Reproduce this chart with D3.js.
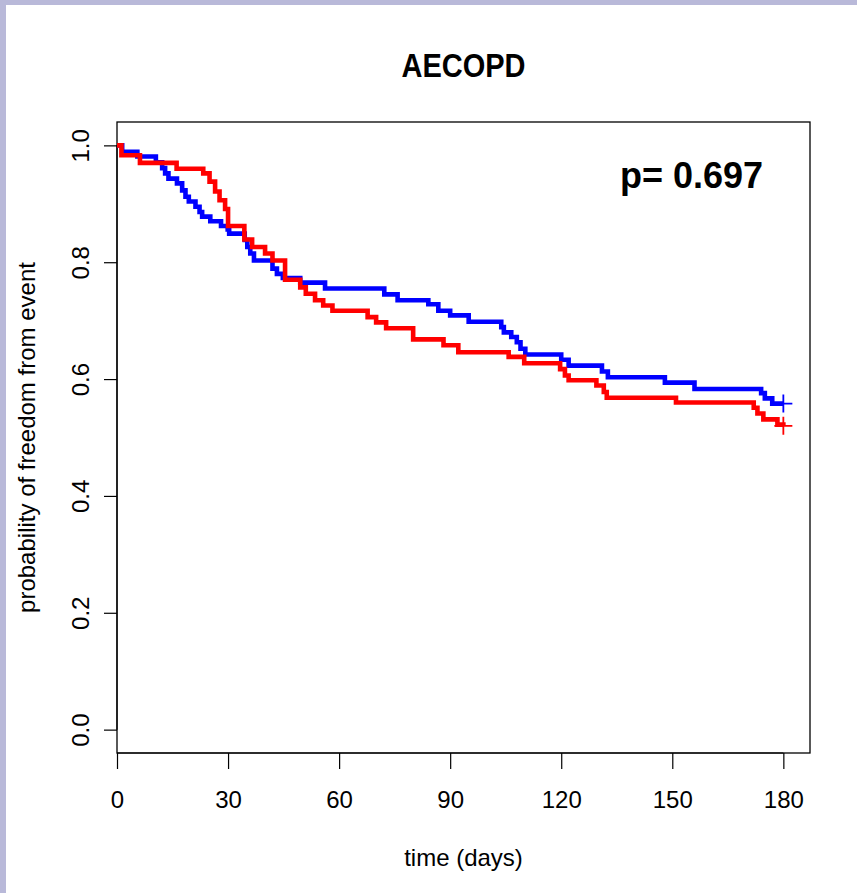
<!DOCTYPE html>
<html>
<head>
<meta charset="utf-8">
<script src="https://cdn.jsdelivr.net/npm/d3@7.9.0/dist/d3.min.js"></script>
<style>
  html, body { margin: 0; padding: 0; background: #fff; }
  svg { display: block; font-family: "Liberation Sans", Arial, sans-serif; }
</style>
</head>
<body>
<svg id="chart" width="857" height="893"></svg>
<script>
// Kaplan-Meier step data (time of step, survival after it)
const blueTimes = [0, 1.4, 5.5, 10.5, 12.2, 13, 13.9, 16.2, 17.6, 18.5, 19.4, 21.2, 22.3, 23, 25.2, 28.1, 29.9, 30.3,
  34.5, 35.2, 36, 37, 42, 43.2, 44.8, 49.5, 56.2, 72.2, 75.8, 84.1, 86.8, 90, 95, 103.8, 104.5, 106.5,
  108, 109, 110.3, 120, 122, 131, 132.6, 148, 156, 174, 175, 177, 180];
const blueSurv = [1.0, 0.989, 0.981, 0.971, 0.961, 0.952, 0.943, 0.935, 0.923, 0.912, 0.904, 0.895, 0.886, 0.878, 0.870, 0.862, 0.856, 0.849,
  0.838, 0.826, 0.815, 0.803, 0.789, 0.780, 0.773, 0.765, 0.755, 0.745, 0.735, 0.728, 0.717, 0.709, 0.698, 0.689, 0.680, 0.672,
  0.663, 0.652, 0.642, 0.633, 0.623, 0.613, 0.603, 0.594, 0.583, 0.576, 0.567, 0.558, 0.558];

const redTimes = [0, 1.2, 6.2, 16.1, 23.3, 25, 26.5, 27.7, 29.2, 30, 34.4, 36.5, 40, 42, 45.4, 49.5, 51, 53.5, 55.7,
  58.2, 67.7, 70, 72.7, 80, 88.2, 92.2, 105.8, 110, 119.7, 121, 122, 129.5, 131.5, 132.3, 151, 172, 173, 174.6, 178.4, 180];
const redSurv = [1.0, 0.983, 0.970, 0.960, 0.952, 0.938, 0.921, 0.906, 0.891, 0.862, 0.839, 0.826, 0.815, 0.803, 0.770, 0.757, 0.746, 0.735, 0.726,
  0.717, 0.706, 0.697, 0.687, 0.668, 0.658, 0.646, 0.638, 0.627, 0.617, 0.606, 0.598, 0.589, 0.578, 0.568, 0.560, 0.551, 0.541, 0.531, 0.522, 0.52];

const xTicks = [0, 30, 60, 90, 120, 150, 180];
const yTicks = [0, 0.2, 0.4, 0.6, 0.8, 1.0];
const title = "AECOPD";
const pText = "p= 0.697";

const svg = d3.select("#chart");

// lavender frame on top and left
svg.append("rect").attr("x", 0).attr("y", 0).attr("width", 857).attr("height", 5).attr("fill", "#b9b9d9");
svg.append("rect").attr("x", 0).attr("y", 0).attr("width", 6).attr("height", 893).attr("fill", "#b9b9d9");

const box = { left: 117, right: 810, top: 122, bottom: 753 };

const x = d3.scaleLinear().domain([0, 187.2]).range([box.left, box.right]);
const y = d3.scaleLinear().domain([-0.04, 1.04]).range([box.bottom, box.top]);

// p-value box
svg.append("rect").attr("x", 598).attr("y", 143).attr("width", 194).attr("height", 65).attr("fill", "#fff");
svg.append("text")
  .attr("x", 620).attr("y", 188)
  .attr("font-size", 36).attr("font-weight", "bold")
  .text(pText);

// x axis
const xAxis = svg.append("g")
  .attr("transform", `translate(0,${box.bottom})`)
  .call(d3.axisBottom(x).tickValues(xTicks).tickSize(16).tickSizeOuter(0).tickPadding(22).tickFormat(d3.format("d")));
xAxis.select(".domain").attr("d", `M${x(0)},0H${x(180)}`);
xAxis.selectAll("text").attr("font-size", 24).attr("font-family", "Liberation Sans, Arial, sans-serif").attr("fill", "#000");

// y axis with rotated labels
const yAxis = svg.append("g")
  .attr("transform", `translate(${box.left},0)`)
  .call(d3.axisLeft(y).tickValues(yTicks).tickSize(13).tickSizeOuter(0).tickFormat(d3.format(".1f")));
yAxis.select(".domain").attr("d", `M0,${y(0)}V${y(1)}`);
yAxis.selectAll("text")
  .attr("font-size", 24).attr("font-family", "Liberation Sans, Arial, sans-serif").attr("fill", "#000")
  .attr("x", 0).attr("y", 0).attr("dy", null)
  .attr("text-anchor", "middle")
  .attr("transform", "translate(-28,0) rotate(-90)");

svg.selectAll(".tick line, .domain").attr("stroke", "#000").attr("stroke-width", 1.2);

// plot frame
svg.append("rect")
  .attr("x", box.left).attr("y", box.top)
  .attr("width", box.right - box.left).attr("height", box.bottom - box.top)
  .attr("fill", "none").attr("stroke", "#000").attr("stroke-width", 1.3);

// curves
const line = d3.line()
  .x(d => x(d[0]))
  .y(d => y(d[1]))
  .curve(d3.curveStepAfter);

const series = [
  { times: blueTimes, surv: blueSurv, color: "#0000ff" },
  { times: redTimes, surv: redSurv, color: "#ff0000" }
];

series.forEach(s => {
  const pts = s.times.map((t, i) => [t, s.surv[i]]);
  svg.append("path")
    .datum(pts)
    .attr("d", line)
    .attr("fill", "none")
    .attr("stroke", s.color)
    .attr("stroke-width", 4.6)
    .attr("stroke-linejoin", "miter");
  // censor mark at the end
  const last = pts[pts.length - 1];
  const cx = x(last[0]), cy = y(last[1]);
  svg.append("path")
    .attr("d", `M${cx - 9},${cy}H${cx + 9}M${cx},${cy - 9}V${cy + 9}`)
    .attr("stroke", s.color).attr("stroke-width", 1.8);
});

// titles
svg.append("text")
  .attr("transform", `translate(${(box.left + box.right) / 2},77) scale(1,1.15)`)
  .attr("text-anchor", "middle")
  .attr("font-size", 29).attr("font-weight", "bold")
  .text(title);

svg.append("text")
  .attr("x", (box.left + box.right) / 2).attr("y", 866)
  .attr("text-anchor", "middle")
  .attr("font-size", 24)
  .text("time (days)");

svg.append("text")
  .attr("transform", `translate(35,${(box.top + box.bottom) / 2}) rotate(-90)`)
  .attr("text-anchor", "middle")
  .attr("font-size", 24)
  .text("probability of freedom from event");
</script>
</body>
</html>
